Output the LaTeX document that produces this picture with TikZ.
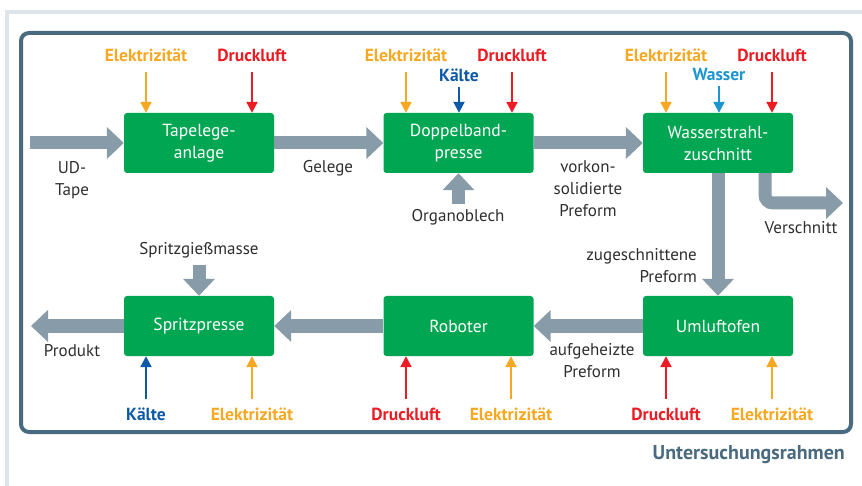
\documentclass[tikz,border=0pt]{standalone}
\usepackage{fontspec}
\setmainfont{PT Sans}
\usetikzlibrary{arrows.meta}
\definecolor{boxgreen}{HTML}{00A651}
\definecolor{flowgray}{HTML}{879BA8}
\definecolor{framec}{HTML}{4A6B7F}
\definecolor{bgline}{HTML}{DDE4EA}
\definecolor{elecc}{HTML}{F7A823}
\definecolor{airc}{HTML}{EB1C24}
\definecolor{coldc}{HTML}{0E5AA7}
\definecolor{waterc}{HTML}{1C95D0}
\definecolor{txtc}{HTML}{2E2E2E}
\begin{document}
\begin{tikzpicture}[x=1pt,y=-1pt,
  proc/.style={fill=boxgreen, rounded corners=3pt, minimum width=150pt, minimum height=60pt,
    text=white, font=\fontsize{17.5}{22}\selectfont, align=center, inner sep=0pt},
  fat/.style={draw=flowgray, line width=13pt, -{Triangle[width=31pt,length=17pt]}},
  feed/.style={line width=2.2pt, -{Triangle[width=11pt,length=11pt]}},
  lbl/.style={text=txtc, font=\fontsize{17}{22}\selectfont, align=center, inner sep=0pt},
  res/.style={font=\bfseries\fontsize{17.5}{20}\selectfont, inner sep=0pt},
  elab/.style={res, text=elecc},
  alab/.style={res, text=airc},
  clab/.style={res, text=coldc},
  wlab/.style={res, text=waterc}]
\useasboundingbox (0,0) rectangle (862,486);
% background frames
\fill[bgline] (5,10) rectangle (862,14);
\fill[bgline] (5,10) rectangle (9,486);
\draw[framec, line width=4pt, rounded corners=8pt] (21,33) rectangle (851,432);
\node[anchor=east, text=framec, font=\bfseries\fontsize{20}{23}\selectfont, inner sep=0pt] (ur) at (845,455) {Untersuchungsrahmen};
% process boxes
\node[proc] (t) at (199,143) {Tapelege-\\anlage};
\node[proc] (d) at (458.5,143) {Doppelband-\\presse};
\node[proc] (w) at (718,143) {Wasserstrahl-\\zuschnitt};
\node[proc] (s) at (199,326) {Spritzpresse};
\node[proc] (r) at (458.5,326) {Roboter};
\node[proc] (u) at (718,326) {Umluftofen};
% material flow
\coordinate (in) at (30,143);
\draw[fat] (in) -- (t.west);
\draw[fat] (t.east) -- (d.west);
\draw[fat] (d.east) -- (w.west);
\draw[fat] (w.south) -- (u.north);
\coordinate (vs) at (843,203);
\draw[fat, rounded corners=8pt] ([xshift=47pt]w.south) |- (vs);
\coordinate (ob) at (458.5,204);
\draw[fat] (ob) -- (d.south);
\coordinate (sg) at (199,265);
\draw[fat] (sg) -- (s.north);
\draw[fat] (u.west) -- (r.east);
\draw[fat] (r.west) -- (s.east);
\coordinate (pr) at (31,326);
\draw[fat] (s.west) -- (pr);
% flow labels
\node[lbl] (udt) at (72,180) {UD-\\Tape};
\node[lbl] (gel) at (328,168) {Gelege};
\node[lbl] (vor) at (588,189) {vorkon-\\solidierte\\Preform};
\node[lbl] (org) at (458,217) {Organoblech};
\node[lbl] (ver) at (801,228) {Verschnitt};
\node[lbl, anchor=east, align=right] (zug) at (697,266) {zugeschnittene\\Preform};
\node[lbl] (auf) at (592,361) {aufgeheizte\\Preform};
\node[lbl] (spg) at (199,250) {Spritzgießmasse};
\node[lbl] (prd) at (72,351) {Produkt};
% resource labels, top row
\node[elab] (e1) at (146,55) {Elektrizität};
\node[alab] (a1) at (252,55) {Druckluft};
\node[elab] (e2) at (406,55) {Elektrizität};
\node[clab] (c2) at (459,75) {Kälte};
\node[alab] (a2) at (512,55) {Druckluft};
\node[elab] (e3) at (666,55) {Elektrizität};
\node[wlab] (w3) at (719,75) {Wasser};
\node[alab] (a3) at (772,55) {Druckluft};
% resource labels, bottom row
\node[clab] (c4) at (146,414) {Kälte};
\node[elab] (e4) at (252,414) {Elektrizität};
\node[alab] (a5) at (406,414) {Druckluft};
\node[elab] (e5) at (511,414) {Elektrizität};
\node[alab] (a6) at (666,414) {Druckluft};
\node[elab] (e6) at (772,414) {Elektrizität};
% resource arrows
\draw[feed, elecc, shorten <=10pt] (e1.south) -- (e1.south |- t.north);
\draw[feed, airc, shorten <=10pt] (a1.south) -- (a1.south |- t.north);
\draw[feed, elecc, shorten <=10pt] (e2.south) -- (e2.south |- d.north);
\draw[feed, coldc, shorten <=5pt] (c2.south) -- (c2.south |- d.north);
\draw[feed, airc, shorten <=10pt] (a2.south) -- (a2.south |- d.north);
\draw[feed, elecc, shorten <=10pt] (e3.south) -- (e3.south |- w.north);
\draw[feed, waterc, shorten <=5pt] (w3.south) -- (w3.south |- w.north);
\draw[feed, airc, shorten <=10pt] (a3.south) -- (a3.south |- w.north);
\draw[feed, coldc, shorten <=8pt] (c4.north) -- (c4.north |- s.south);
\draw[feed, elecc, shorten <=8pt] (e4.north) -- (e4.north |- s.south);
\draw[feed, airc, shorten <=8pt] (a5.north) -- (a5.north |- r.south);
\draw[feed, elecc, shorten <=8pt] (e5.north) -- (e5.north |- r.south);
\draw[feed, airc, shorten <=8pt] (a6.north) -- (a6.north |- u.south);
\draw[feed, elecc, shorten <=8pt] (e6.north) -- (e6.north |- u.south);
\end{tikzpicture}
\end{document}
